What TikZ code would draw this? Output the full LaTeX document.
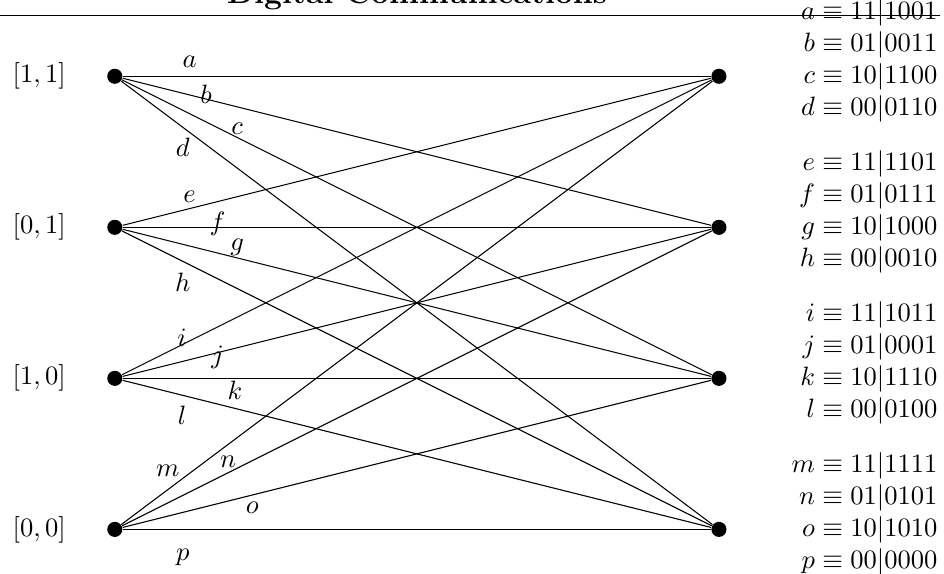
\documentclass[tikz,border=0pt]{standalone}
\begin{document}
\begin{tikzpicture}[dot/.style={circle,fill=black,inner sep=0pt,minimum size=0.2cm}]
\useasboundingbox (-1.52,-0.58) rectangle (10.98,7.01);
% title and rule
\node[font=\large\bfseries,anchor=base] (title) at (4,6.96) {Digital Communications};
\coordinate (ruleL) at (-1.52,6.8);
\coordinate (ruleR) at (10.93,6.8);
\draw (ruleL) -- (ruleR);
% states
\foreach \i/\y/\st in {1/6/{[1,1]},2/4/{[0,1]},3/2/{[1,0]},4/0/{[0,0]}} {
  \node[dot] (l\i) at (0,\y) {};
  \node[dot] (r\i) at (8,\y) {};
  \node (s\i) at (-1,\y) {$\st$};
}
% transitions
\foreach \a/\b/\lbl/\x/\y in {1/1/a/0.99/6.19,1/2/b/1.21/5.76,1/3/c/1.62/5.30,1/4/d/0.90/5.06,
  2/1/e/0.99/4.40,2/2/f/1.36/4.05,2/3/g/1.62/3.74,2/4/h/0.90/3.27,
  3/1/i/0.89/2.54,3/2/j/1.36/2.28,3/3/k/1.59/1.84,3/4/l/0.89/1.51,
  4/1/m/0.70/0.78,4/2/n/1.50/0.89,4/3/o/1.82/0.29,4/4/p/0.90/-0.37} {
  \draw (l\a) -- (r\b);
  \node (lab\lbl) at (\x,\y) {$\lbl$};
}
% codewords
\node[anchor=east,inner sep=0pt] (code1) at (10.9,6.2) {$\begin{array}{@{}r@{}l@{}}
  a & {}\equiv 11|1001\\ b & {}\equiv 01|0011\\ c & {}\equiv 10|1100\\ d & {}\equiv 00|0110\end{array}$};
\node[anchor=east,inner sep=0pt] (code2) at (10.9,4.2) {$\begin{array}{@{}r@{}l@{}}
  e & {}\equiv 11|1101\\ f & {}\equiv 01|0111\\ g & {}\equiv 10|1000\\ h & {}\equiv 00|0010\end{array}$};
\node[anchor=east,inner sep=0pt] (code3) at (10.9,2.2) {$\begin{array}{@{}r@{}l@{}}
  i & {}\equiv 11|1011\\ j & {}\equiv 01|0001\\ k & {}\equiv 10|1110\\ l & {}\equiv 00|0100\end{array}$};
\node[anchor=east,inner sep=0pt] (code4) at (10.9,0.2) {$\begin{array}{@{}r@{}l@{}}
  m & {}\equiv 11|1111\\ n & {}\equiv 01|0101\\ o & {}\equiv 10|1010\\ p & {}\equiv 00|0000\end{array}$};
\end{tikzpicture}
\end{document}
